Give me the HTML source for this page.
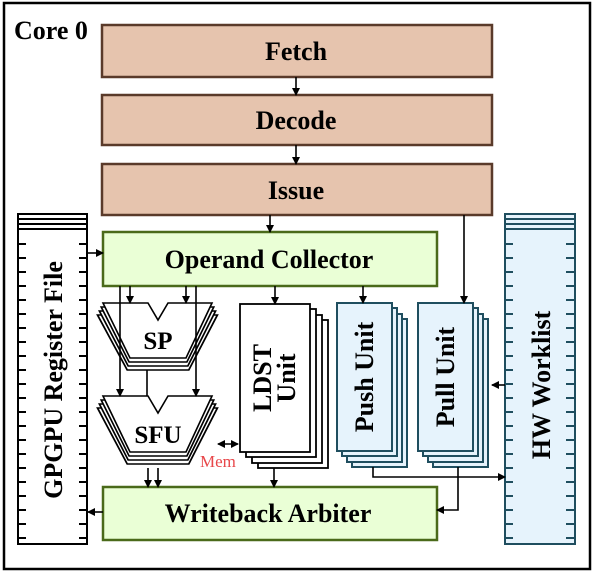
<!DOCTYPE html>
<html><head><meta charset="utf-8"><style>
html,body{margin:0;padding:0;background:#fff;}
svg{display:block;}
text{font-family:"Liberation Serif",serif;font-weight:bold;}
</style></head><body>
<svg width="595" height="577" viewBox="0 0 595 577" xmlns="http://www.w3.org/2000/svg">
<defs>
<marker id="a" markerWidth="8" markerHeight="8" refX="7" refY="4" orient="auto" markerUnits="userSpaceOnUse"><path d="M0,0 L8,4 L0,8 z" fill="#000"/></marker>
<marker id="as" markerWidth="8" markerHeight="8" refX="1" refY="4" orient="auto" markerUnits="userSpaceOnUse"><path d="M8,0 L0,4 L8,8 z" fill="#000"/></marker>
</defs>
<rect x="4" y="3" width="586" height="566" fill="#fff" stroke="#000" stroke-width="2.5"/>
<text x="14" y="39" font-size="26">Core 0</text>

<g fill="#e6c4ae" stroke="#5a3a2a" stroke-width="2.5">
<rect x="102" y="25" width="390" height="52"/>
<rect x="102" y="95" width="390" height="50"/>
<rect x="102" y="164" width="390" height="51"/>
</g>
<g font-size="26" text-anchor="middle">
<text x="296" y="60">Fetch</text>
<text x="296" y="129">Decode</text>
<text x="296" y="199">Issue</text>
</g>

<!-- register file -->
<g stroke="#000" stroke-width="2">
<rect x="18" y="214" width="69" height="330" fill="#fff"/>
<line x1="18" y1="219" x2="87" y2="219"/><line x1="18" y1="224" x2="87" y2="224"/><line x1="18" y1="229" x2="87" y2="229"/>
<g id="ticks">
<path d="M18,244h8M18,258h8M18,272h8M18,286h8M18,300h8M18,314h8M18,328h8M18,342h8M18,356h8M18,370h8M18,384h8M18,398h8M18,412h8M18,426h8M18,440h8M18,454h8M18,468h8M18,482h8M18,496h8M18,510h8M18,524h8M18,538h8"/>
<path d="M79,244h8M79,258h8M79,272h8M79,286h8M79,300h8M79,314h8M79,328h8M79,342h8M79,356h8M79,370h8M79,384h8M79,398h8M79,412h8M79,426h8M79,440h8M79,454h8M79,468h8M79,482h8M79,496h8M79,510h8M79,524h8M79,538h8"/>
</g>
</g>
<text transform="translate(62,380) rotate(-90)" font-size="26" text-anchor="middle">GPGPU Register File</text>

<!-- HW worklist -->
<g stroke="#1f4e5f" stroke-width="2">
<rect x="505" y="214" width="70" height="330" fill="#e6f3fc"/>
<line x1="505" y1="219" x2="575" y2="219"/><line x1="505" y1="224" x2="575" y2="224"/><line x1="505" y1="229" x2="575" y2="229"/>
<g transform="translate(487,0)"><use href="#ticks"/></g>
</g>
<text transform="translate(550,385) rotate(-90)" font-size="26" text-anchor="middle">HW Worklist</text>

<!-- operand collector -->
<rect x="103" y="232" width="334" height="54" fill="#eaffd6" stroke="#4a6a1a" stroke-width="2.5"/>
<text x="269" y="268" font-size="26" text-anchor="middle">Operand Collector</text>

<!-- writeback -->
<rect x="103" y="487" width="334" height="53" fill="#eaffd6" stroke="#4a6a1a" stroke-width="2.5"/>
<text x="268" y="522" font-size="26" text-anchor="middle">Writeback Arbiter</text>

<!-- SP -->
<g fill="#fff" stroke="#000" stroke-width="1.6">
<path d="M103,315 L148,315 L158,332 L168,315 L212,315 L186,370 L130,370 Z" transform="translate(158,0) scale(1.1,1) translate(-158,0)"/>
<path d="M103,311 L148,311 L158,328 L168,311 L212,311 L186,366 L130,366 Z" transform="translate(158,0) scale(1.066,1) translate(-158,0)"/>
<path d="M103,307 L148,307 L158,324 L168,307 L212,307 L186,362 L130,362 Z" transform="translate(158,0) scale(1.033,1) translate(-158,0)"/>
<path d="M103,303 L148,303 L158,320 L168,303 L212,303 L186,358 L130,358 Z"/>
</g>
<text x="158" y="349" font-size="25" text-anchor="middle">SP</text>
<g fill="#fff" stroke="#000" stroke-width="1.6">
<path d="M103,408 L148,408 L158,425 L168,408 L212,408 L186,464 L130,464 Z" transform="translate(158,0) scale(1.1,1) translate(-158,0)"/>
<path d="M103,404 L148,404 L158,421 L168,404 L212,404 L186,460 L130,460 Z" transform="translate(158,0) scale(1.066,1) translate(-158,0)"/>
<path d="M103,400 L148,400 L158,417 L168,400 L212,400 L186,456 L130,456 Z" transform="translate(158,0) scale(1.033,1) translate(-158,0)"/>
<path d="M103,396 L148,396 L158,413 L168,396 L212,396 L186,452 L130,452 Z"/>
</g>
<text x="158" y="443" font-size="25" text-anchor="middle">SFU</text>

<!-- LDST -->
<g fill="#fff" stroke="#000" stroke-width="1.8">
<rect x="258" y="320" width="70" height="148"/>
<rect x="252" y="315" width="70" height="148"/>
<rect x="246" y="309" width="70" height="148"/>
<rect x="240" y="304" width="70" height="148"/>
</g>
<text transform="translate(276,378) rotate(-90)" font-size="26" text-anchor="middle"><tspan x="0" dy="-5">LDST</tspan><tspan x="0" dy="24">Unit</tspan></text>

<!-- Push / Pull -->
<g fill="#e6f3fc" stroke="#1f4e5f" stroke-width="2">
<rect x="352" y="319" width="55" height="148"/>
<rect x="347" y="314" width="55" height="148"/>
<rect x="342" y="308" width="55" height="148"/>
<rect x="337" y="303" width="55" height="148"/>
<rect x="433" y="319" width="55" height="148"/>
<rect x="428" y="314" width="55" height="148"/>
<rect x="423" y="308" width="55" height="148"/>
<rect x="418" y="303" width="55" height="148"/>
</g>
<text transform="translate(373,377) rotate(-90)" font-size="26" text-anchor="middle">Push Unit</text>
<text transform="translate(454,377) rotate(-90)" font-size="26" text-anchor="middle">Pull Unit</text>

<text x="200" y="467" font-size="17" fill="#e8474a" style="font-weight:normal">Mem</text>

<!-- connectors -->
<g stroke="#000" stroke-width="1.6" fill="none" marker-end="url(#a)">
<line x1="296" y1="77" x2="296" y2="95"/>
<line x1="296" y1="145" x2="296" y2="164"/>
<line x1="270" y1="215" x2="270" y2="232"/>
<line x1="464" y1="215" x2="464" y2="303"/>
<line x1="88" y1="253" x2="103" y2="253"/>
<line x1="130" y1="286" x2="130" y2="303"/>
<line x1="186" y1="286" x2="186" y2="303"/>
<line x1="120" y1="286" x2="120" y2="396"/>
<line x1="196" y1="286" x2="196" y2="396"/>
<line x1="275" y1="286" x2="275" y2="304"/>
<line x1="363" y1="286" x2="363" y2="303"/>
<line x1="148" y1="468" x2="148" y2="487"/>
<line x1="158" y1="468" x2="158" y2="487"/>
<line x1="274" y1="468" x2="274" y2="487"/>
<line x1="505" y1="385" x2="492" y2="385"/>
<line x1="103" y1="512" x2="88" y2="512"/>
<polyline points="373,467 373,477 505,477"/>
<polyline points="458,467 458,510 437,510"/>
<line x1="218" y1="444" x2="238" y2="444" marker-start="url(#as)"/>
</g>
<line x1="147" y1="370" x2="147" y2="396" stroke="#000" stroke-width="1.6"/>
</svg>
</body></html>
